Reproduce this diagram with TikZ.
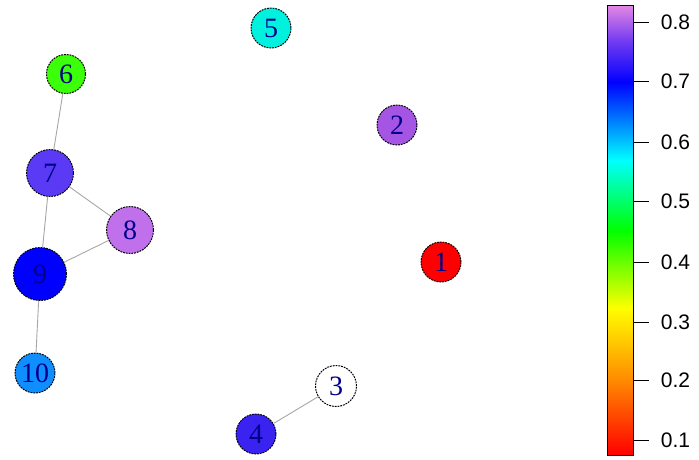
\documentclass[tikz,border=0pt]{standalone}
\usepackage{fontspec}
\setmainfont{Liberation Serif}
\newfontfamily\barfont{Liberation Sans}
\definecolor{lbl}{HTML}{00008B}
\definecolor{c1}{HTML}{FF0000}
\definecolor{c2}{HTML}{A455E4}
\definecolor{c3}{HTML}{FFFFFF}
\definecolor{c4}{HTML}{3A22F0}
\definecolor{c5}{HTML}{00F2DE}
\definecolor{c6}{HTML}{3CFF0A}
\definecolor{c7}{HTML}{5A3AF5}
\definecolor{c8}{HTML}{C070EB}
\definecolor{c9}{HTML}{0000FF}
\definecolor{c10}{HTML}{0E8EFF}
\definecolor{s1}{HTML}{FF0000}
\definecolor{s2}{HTML}{FF8A00}
\definecolor{s3}{HTML}{FFFF00}
\definecolor{s4}{HTML}{00FF00}
\definecolor{s5}{HTML}{00FFFF}
\definecolor{s6}{HTML}{0000FF}
\definecolor{s7}{HTML}{7A40F0}
\definecolor{s8}{HTML}{E488E4}
\begin{document}
\begin{tikzpicture}[x=1pt,y=-1pt,
  vtx/.style={circle,draw=black,dash pattern=on 1.8pt off 1pt,line width=1pt,inner sep=0pt,text=lbl,font=\fontsize{28}{28}\selectfont},
  edge/.style={draw=gray!70,line width=0.9pt},
  tick/.style={line width=1pt},
  ticklbl/.style={anchor=west,font=\barfont\fontsize{21}{21}\selectfont,text=black}]
\useasboundingbox (0,0) rectangle (699,459);
\node[vtx,fill=c1,minimum size=40pt] (n1) at (441,262) {1};
\node[vtx,fill=c2,minimum size=40pt] (n2) at (397,125) {2};
\node[vtx,fill=c3,minimum size=41pt] (n3) at (336,386) {3};
\node[vtx,fill=c4,minimum size=40pt] (n4) at (256,434) {4};
\node[vtx,fill=c5,minimum size=40pt] (n5) at (271,28) {5};
\node[vtx,fill=c6,minimum size=39pt] (n6) at (66,74) {6};
\node[vtx,fill=c7,minimum size=47pt] (n7) at (50,173) {7};
\node[vtx,fill=c8,minimum size=47pt] (n8) at (130,230) {8};
\node[vtx,fill=c9,minimum size=53pt] (n9) at (40,274) {9};
\node[vtx,fill=c10,minimum size=40pt] (n10) at (35,373) {10};
\draw[edge] (n6) -- (n7);
\draw[edge] (n7) -- (n8);
\draw[edge] (n7) -- (n9);
\draw[edge] (n8) -- (n9);
\draw[edge] (n9) -- (n10);
\draw[edge] (n3) -- (n4);
% colour bar
\shade[bottom color=s1,top color=s2] (607,455) rectangle (633,380);
\shade[bottom color=s2,top color=s3] (607,380.5) rectangle (633,308);
\shade[bottom color=s3,top color=s4] (607,308.5) rectangle (633,230);
\shade[bottom color=s4,top color=s5] (607,230.5) rectangle (633,160);
\shade[bottom color=s5,top color=s6] (607,160.5) rectangle (633,82);
\shade[bottom color=s6,top color=s7] (607,82.5) rectangle (633,38);
\shade[bottom color=s7,top color=s8] (607,38.5) rectangle (633,5);
\node[draw=black,line width=0.9pt,minimum width=26pt,minimum height=450pt,inner sep=0pt] (bar) at (620,230) {};
\foreach \v/\y [count=\i] in {0.8/22,0.7/81,0.6/142,0.5/201,0.4/262,0.3/322,0.2/380,0.1/440}{
  \coordinate (t\i) at (633,\y);
  \draw[tick] (t\i) -- ++(16,0) node[ticklbl,xshift=8pt] {\v};
}
\end{tikzpicture}
\end{document}
